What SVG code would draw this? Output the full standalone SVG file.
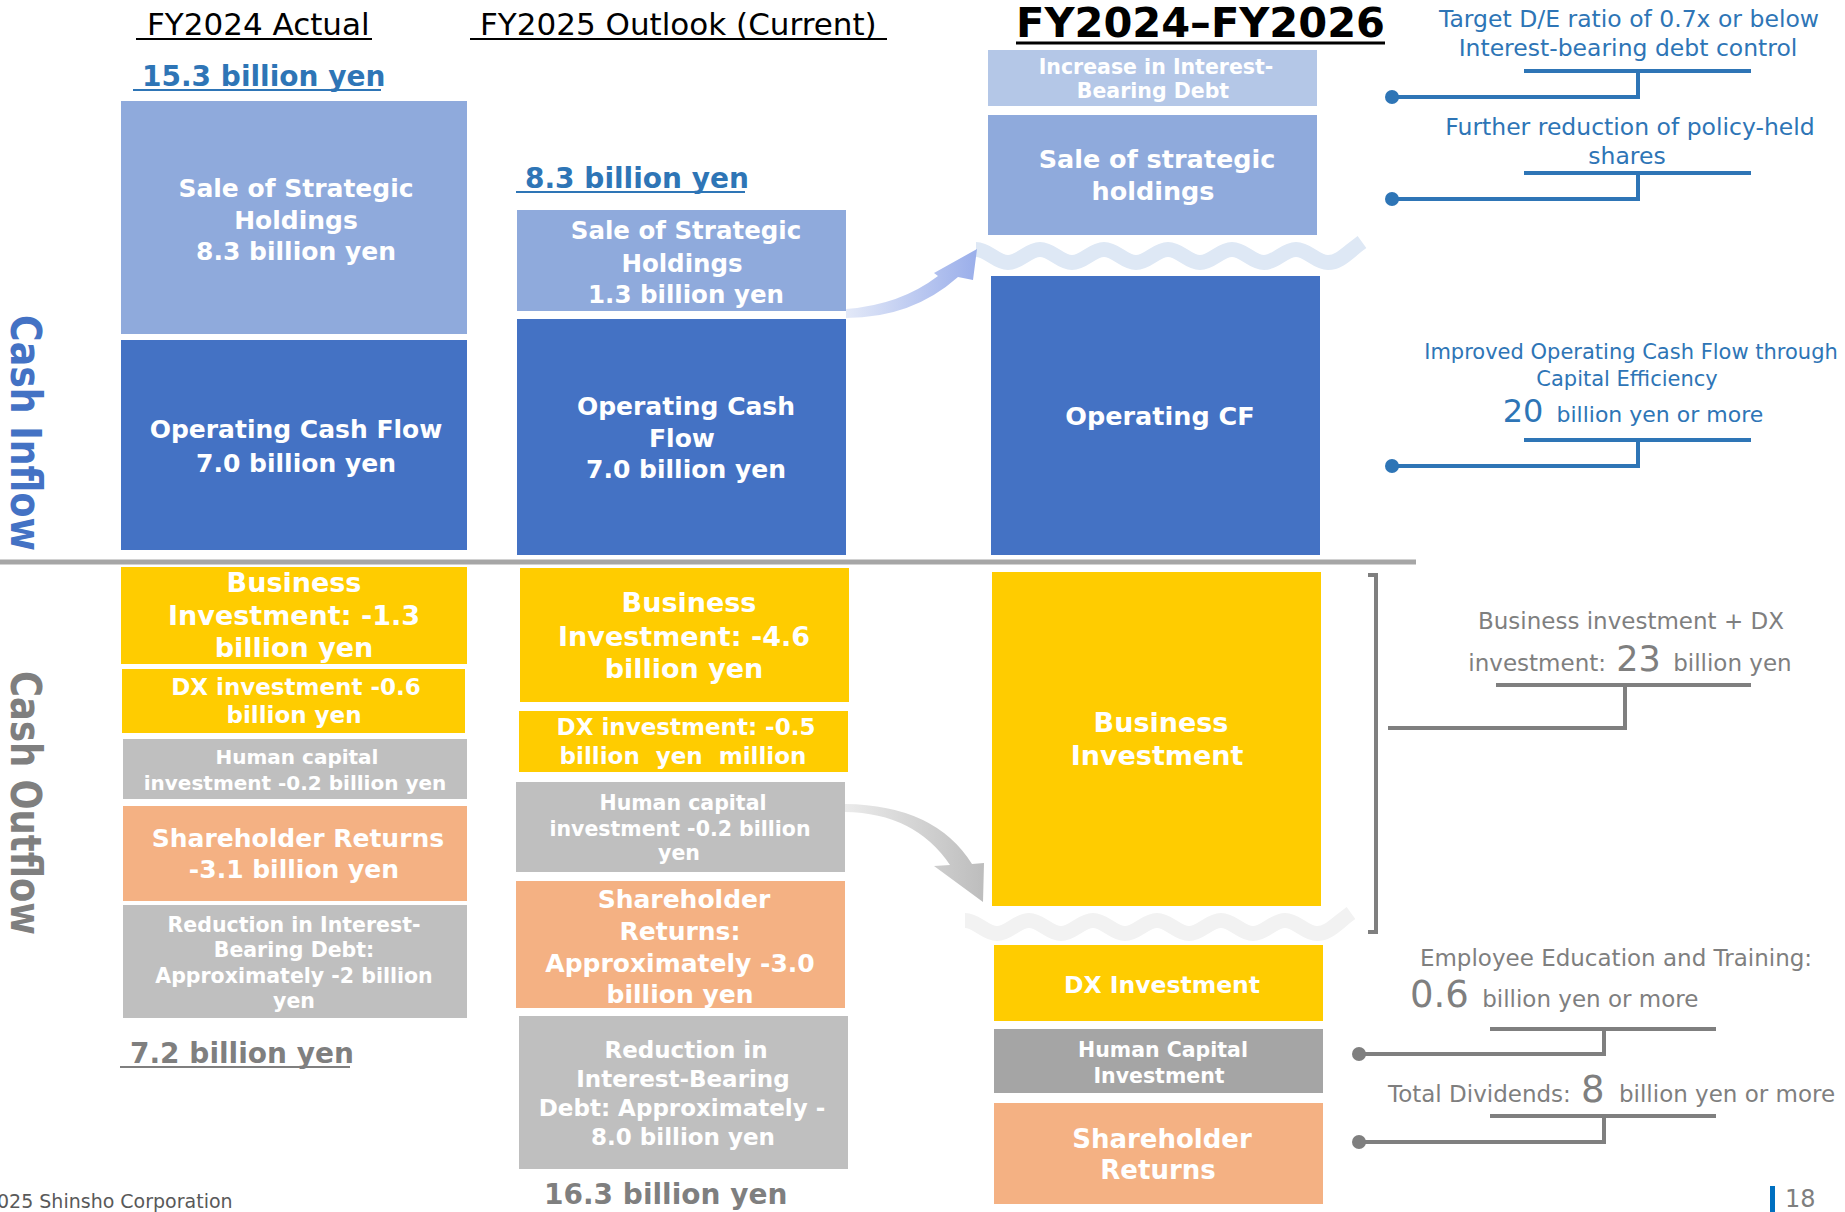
<svg xmlns="http://www.w3.org/2000/svg" xmlns:xlink="http://www.w3.org/1999/xlink" width="1845" height="1212" viewBox="0 0 1845 1212">
<style>
text { font-family: "DejaVu Sans", Verdana, "Liberation Sans", sans-serif; }
.bt { font-weight: bold; fill: #FFFFFF; text-anchor: middle; }
.hdr { font-size: 31px; fill: #000000; }
.tot { font-weight: bold; font-size: 28px; }
.blue { fill: #2E75B6; }
.gray { fill: #7F7F7F; }
.nb { fill: #2E75B6; text-anchor: middle; }
.ng { fill: #7F7F7F; }
.lb { stroke: #2E75B6; stroke-width: 4; fill: none; }
.lg { stroke: #7F7F7F; stroke-width: 4; fill: none; }
.ul { stroke-width: 2; }
.c-lb { fill: #8FAADC; }
.c-llb { fill: #B4C7E7; }
.c-b { fill: #4472C4; }
.c-y { fill: #FFCC00; }
.c-g { fill: #BFBFBF; }
.c-dg { fill: #A5A5A5; }
.c-o { fill: #F4B183; }
</style>
<defs>
<linearGradient id="gBlue" x1="0" y1="0" x2="1" y2="0">
<stop offset="0" stop-color="#E3E9F8"/>
<stop offset="1" stop-color="#9AAEEA"/>
</linearGradient>
<linearGradient id="gGray" x1="0" y1="0" x2="1" y2="0">
<stop offset="0" stop-color="#EBEBEB"/>
<stop offset="1" stop-color="#BDBDBD"/>
</linearGradient>
<path id="wave" fill="none" stroke-width="15" d="M976,249.5 C988,249.5 996,262.5 1008,262.5 S1028,249.5 1040,249.5 S1060,262.5 1072,262.5 S1092,249.5 1104,249.5 S1124,262.5 1136,262.5 S1156,249.5 1168,249.5 S1188,262.5 1200,262.5 S1220,249.5 1232,249.5 S1252,262.5 1264,262.5 S1284,249.5 1296,249.5 S1316,262.5 1328,262.5 S1348,252 1362,242"/>
</defs>
<rect x="0" y="0" width="1845" height="1212" fill="#FFFFFF"/>

<!-- headers -->
<g id="headers">
<text class="hdr" x="147" y="35">FY2024 Actual</text>
<line x1="136" y1="39" x2="372" y2="39" stroke="#000" class="ul"/>
<text class="hdr" x="480" y="35">FY2025 Outlook (Current)</text>
<line x1="470" y1="39" x2="887" y2="39" stroke="#000" class="ul"/>
<text x="1016" y="37" font-size="40" font-weight="bold" fill="#000" textLength="369" lengthAdjust="spacingAndGlyphs">FY2024–FY2026</text>
<line x1="1016" y1="43" x2="1385" y2="43" stroke="#000" stroke-width="3"/>
</g>

<g id="totals">
<text class="tot blue" x="142" y="86">15.3 billion yen</text>
<line x1="133" y1="90" x2="381" y2="90" stroke="#2E75B6" class="ul"/>
<text class="tot blue" x="525" y="188">8.3 billion yen</text>
<line x1="516" y1="192" x2="745" y2="192" stroke="#2E75B6" class="ul"/>
<text class="tot gray" x="130" y="1063">7.2 billion yen</text>
<line x1="120" y1="1067" x2="350" y2="1067" stroke="#7F7F7F" class="ul"/>
<text class="tot gray" x="544" y="1204">16.3 billion yen</text>
</g>

<g id="side-labels">
<text transform="translate(11,433) rotate(90)" font-size="42" font-weight="bold" fill="#4472C4" text-anchor="middle" textLength="236" lengthAdjust="spacingAndGlyphs">Cash Inflow</text>
<text transform="translate(11,803) rotate(90)" font-size="42" font-weight="bold" fill="#7F7F7F" text-anchor="middle" textLength="264" lengthAdjust="spacingAndGlyphs">Cash Outflow</text>
</g>

<line id="separator" x1="0" y1="562" x2="1416" y2="562" stroke="#A6A6A6" stroke-width="5"/>

<!-- waves -->
<g id="waves">
<use xlink:href="#wave" href="#wave" stroke="#DEE8F5"/>
<use xlink:href="#wave" href="#wave" stroke="#F2F2F2" transform="translate(-11,671)"/>
</g>

<!-- Column 1: FY2024 Actual -->
<g id="c1-sale">
<rect class="c-lb" x="121" y="101" width="346" height="233"/>
<text class="bt" font-size="25"><tspan x="296" y="197">Sale of Strategic</tspan><tspan x="296" y="229">Holdings</tspan><tspan x="296" y="260">8.3 billion yen</tspan></text>
</g>
<g id="c1-opcf">
<rect class="c-b" x="121" y="340" width="346" height="210"/>
<text class="bt" font-size="25"><tspan x="296" y="438">Operating Cash Flow</tspan><tspan x="296" y="472">7.0 billion yen</tspan></text>
</g>
<g id="c1-bi">
<rect class="c-y" x="121" y="567" width="346" height="97"/>
<text class="bt" font-size="27"><tspan x="294" y="592">Business</tspan><tspan x="294" y="625">Investment: -1.3</tspan><tspan x="294" y="657">billion yen</tspan></text>
</g>
<g id="c1-dx">
<rect class="c-y" x="122" y="669" width="343" height="64"/>
<text class="bt" font-size="23"><tspan x="296" y="695">DX investment -0.6</tspan><tspan x="294" y="723">billion yen</tspan></text>
</g>
<g id="c1-hc">
<rect class="c-g" x="123" y="739" width="344" height="60"/>
<text class="bt" font-size="20"><tspan x="297" y="764">Human capital</tspan><tspan x="295" y="790">investment -0.2 billion yen</tspan></text>
</g>
<g id="c1-sr">
<rect class="c-o" x="123" y="806" width="344" height="95"/>
<text class="bt" font-size="25"><tspan x="298" y="847">Shareholder Returns</tspan><tspan x="294" y="878">-3.1 billion yen</tspan></text>
</g>
<g id="c1-debt">
<rect class="c-g" x="123" y="905" width="344" height="113"/>
<text class="bt" font-size="20.5"><tspan x="294" y="932">Reduction in Interest-</tspan><tspan x="294" y="957">Bearing Debt:</tspan><tspan x="294" y="983">Approximately -2 billion</tspan><tspan x="294" y="1008">yen</tspan></text>
</g>

<!-- Column 2: FY2025 Outlook -->
<g id="c2-sale">
<rect class="c-lb" x="517" y="210" width="329" height="101"/>
<text class="bt" font-size="24.5"><tspan x="686" y="239">Sale of Strategic</tspan><tspan x="682" y="272">Holdings</tspan><tspan x="686" y="303">1.3 billion yen</tspan></text>
</g>
<g id="c2-opcf">
<rect class="c-b" x="517" y="319" width="329" height="236"/>
<text class="bt" font-size="25"><tspan x="686" y="415">Operating Cash</tspan><tspan x="682" y="447">Flow</tspan><tspan x="686" y="478">7.0 billion yen</tspan></text>
</g>
<g id="c2-bi">
<rect class="c-y" x="520" y="568" width="329" height="134"/>
<text class="bt" font-size="27"><tspan x="689" y="612">Business</tspan><tspan x="684" y="646">Investment: -4.6</tspan><tspan x="684" y="678">billion yen</tspan></text>
</g>
<g id="c2-dx">
<rect class="c-y" x="519" y="711" width="329" height="61"/>
<text class="bt" font-size="23"><tspan x="686" y="735">DX investment: -0.5</tspan><tspan x="683" y="764" word-spacing="8">billion yen million</tspan></text>
</g>
<g id="c2-hc">
<rect class="c-g" x="516" y="782" width="329" height="90"/>
<text class="bt" font-size="20.5"><tspan x="683" y="810">Human capital</tspan><tspan x="680" y="836">investment -0.2 billion</tspan><tspan x="679" y="860">yen</tspan></text>
</g>
<g id="c2-sr">
<rect class="c-o" x="516" y="881" width="329" height="127"/>
<text class="bt" font-size="25"><tspan x="684" y="908">Shareholder</tspan><tspan x="680" y="940">Returns:</tspan><tspan x="680" y="972">Approximately -3.0</tspan><tspan x="680" y="1003">billion yen</tspan></text>
</g>
<g id="c2-debt">
<rect class="c-g" x="519" y="1016" width="329" height="153"/>
<text class="bt" font-size="23"><tspan x="686" y="1058">Reduction in</tspan><tspan x="683" y="1087">Interest-Bearing</tspan><tspan x="682" y="1116">Debt: Approximately -</tspan><tspan x="683" y="1145">8.0 billion yen</tspan></text>
</g>

<!-- Column 3: FY2024-FY2026 -->
<g id="c3-debt">
<rect class="c-llb" x="988" y="50" width="329" height="56"/>
<text class="bt" font-size="20.5"><tspan x="1156" y="74">Increase in Interest-</tspan><tspan x="1153" y="98">Bearing Debt</tspan></text>
</g>
<g id="c3-sale">
<rect class="c-lb" x="988" y="115" width="329" height="120"/>
<text class="bt" font-size="25.5"><tspan x="1157" y="168">Sale of strategic</tspan><tspan x="1153" y="200">holdings</tspan></text>
</g>
<g id="c3-opcf">
<rect class="c-b" x="991" y="276" width="329" height="279"/>
<text class="bt" font-size="25.5" x="1160" y="425">Operating CF</text>
</g>
<g id="c3-bi">
<rect class="c-y" x="992" y="572" width="329" height="334"/>
<text class="bt" font-size="27"><tspan x="1161" y="732">Business</tspan><tspan x="1157" y="765">Investment</tspan></text>
</g>
<g id="c3-dx">
<rect class="c-y" x="994" y="945" width="329" height="76"/>
<text class="bt" font-size="23.5" x="1162" y="993">DX Investment</text>
</g>
<g id="c3-hc">
<rect class="c-dg" x="994" y="1029" width="329" height="64"/>
<text class="bt" font-size="20.5"><tspan x="1163" y="1057">Human Capital</tspan><tspan x="1159" y="1083">Investment</tspan></text>
</g>
<g id="c3-sr">
<rect class="c-o" x="994" y="1103" width="329" height="101"/>
<text class="bt" font-size="26"><tspan x="1162" y="1148">Shareholder</tspan><tspan x="1158" y="1179">Returns</tspan></text>
</g>

<!-- Right-hand notes -->
<g id="note-de">
<text class="nb" font-size="23.5"><tspan x="1629" y="27">Target D/E ratio of 0.7x or below</tspan><tspan x="1628" y="56">Interest-bearing debt control</tspan></text>
</g>
<g id="note-policy">
<text class="nb" font-size="23.5"><tspan x="1630" y="135">Further reduction of policy-held</tspan><tspan x="1627" y="164">shares</tspan></text>
</g>
<g id="note-opcf">
<text class="nb" font-size="21"><tspan x="1631" y="359">Improved Operating Cash Flow through</tspan><tspan x="1627" y="386">Capital Efficiency</tspan></text>
<text class="nb" x="1633" y="422"><tspan font-size="32">20</tspan><tspan font-size="22" dx="6"> billion yen or more</tspan></text>
</g>
<g id="note-invest">
<text class="ng" font-size="23" text-anchor="middle" x="1631" y="629">Business investment + DX</text>
<text class="ng" font-size="23" text-anchor="middle" x="1630" y="671">investment: <tspan font-size="35" dx="3">23</tspan><tspan dx="5"> billion yen</tspan></text>
</g>
<g id="note-edu">
<text class="ng" font-size="23" text-anchor="middle" x="1616" y="966">Employee Education and Training:</text>
<text class="ng" font-size="23" x="1410" y="1007"><tspan font-size="37">0.6</tspan><tspan dx="6"> billion yen or more</tspan></text>
</g>
<g id="note-div">
<text class="ng" font-size="23" x="1388" y="1102">Total Dividends: <tspan font-size="37" dx="3">8</tspan><tspan dx="7"> billion yen or more</tspan></text>
</g>

<!-- connectors -->
<g id="connectors">
<path class="lb" d="M1524,71 H1751 M1638,71 V97 H1392"/>
<circle cx="1392" cy="97" r="7" fill="#2E75B6"/>
<path class="lb" d="M1524,173 H1751 M1638,173 V199 H1392"/>
<circle cx="1392" cy="199" r="7" fill="#2E75B6"/>
<path class="lb" d="M1524,440 H1751 M1638,440 V466 H1392"/>
<circle cx="1392" cy="466" r="7" fill="#2E75B6"/>
<path class="lg" stroke-width="3" d="M1368,575 H1376 V932 H1368"/>
<path class="lg" d="M1496,685 H1751 M1625,685 V728 H1388"/>
<path class="lg" d="M1490,1029 H1716 M1604,1029 V1054 H1359"/>
<circle cx="1359" cy="1054" r="7" fill="#7F7F7F"/>
<path class="lg" d="M1490,1116 H1716 M1604,1116 V1142 H1359"/>
<circle cx="1359" cy="1142" r="7" fill="#7F7F7F"/>
<path id="arrow-blue" fill="url(#gBlue)" d="M846,309 Q900,305 938,276 L934,273 L977,249 L973,280 L958,277 Q912,318 846,318 Z"/>
<path id="arrow-gray" fill="url(#gGray)" d="M845,804 Q935,805 972,864 L984,863 L983,902 L934,866 L950,865 Q915,813 845,812 Z"/>
</g>

<g id="footer">
<text x="-3" y="1208" font-size="19" fill="#595959">025 Shinsho Corporation</text>
<rect x="1770" y="1186" width="5" height="26" fill="#0070C0"/>
<text x="1785" y="1207" font-size="24" fill="#7F7F7F">18</text>
</g>
</svg>
